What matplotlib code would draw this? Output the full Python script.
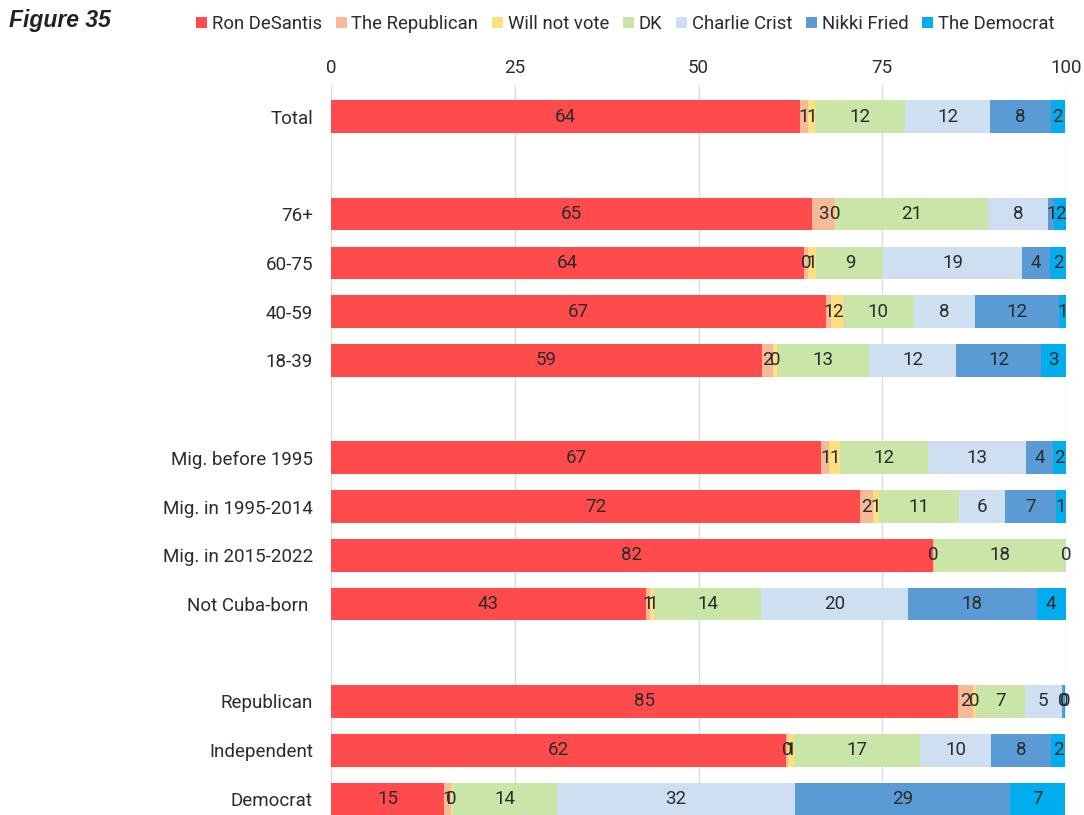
import matplotlib
matplotlib.use("Agg")
import matplotlib.pyplot as plt
import numpy as np

categories = ["Total", "", "76+", "60-75", "40-59", "18-39", "",
              "Mig. before 1995", "Mig. in 1995-2014", "Mig. in 2015-2022", "Not Cuba-born ", "",
              "Republican", "Independent", "Democrat"]
series_names = ["Ron DeSantis", "The Republican", "Will not vote", "DK",
                "Charlie Crist", "Nikki Fried", "The Democrat"]
nan = np.nan
ron_desantis   = [63.8, nan, 65.4, 64.4, 67.4, 58.6, nan, 66.7, 72.0, 81.9, 42.8, nan, 85.3, 61.9, 15.4]
the_republican = [1.1,  nan, 3.2,  0.45, 0.64, 1.6,  nan, 1.1,  1.77, 0.1,  0.6,  nan, 2.04, 0.3,  0.9]
will_not_vote  = [1.0,  nan, 0.1,  1.2,  1.6,  0.45, nan, 1.4,  0.8,  0.0,  0.6,  nan, 0.45, 0.8,  0.1]
dk             = [12.2, nan, 20.7, 9.1,  9.66, 12.6, nan, 12.0, 10.9, 18.0, 14.5, nan, 6.6,  17.1, 14.4]
charlie_crist  = [11.6, nan, 8.2,  18.8, 8.3,  11.8, nan, 13.4, 6.2,  0.0,  19.95, nan, 5.0, 9.75, 32.3]
nikki_fried    = [8.2,  nan, 0.8,  3.9,  11.5, 11.6, nan, 3.6,  7.0,  0.0,  17.6, nan, 0.4,  8.1,  29.3]
the_democrat   = [2.0,  nan, 1.7,  2.3,  0.9,  3.3,  nan, 1.9,  1.3,  0.1,  3.9,  nan, 0.1,  1.95, 7.4]
x_ticks = [0, 25, 50, 75, 100]

colors = ["#FF4B4B", "#F5BA98", "#FFDF80", "#C9E5A7", "#CDDFF0", "#5B9BD5", "#00AEEF"]
all_series = [ron_desantis, the_republican, will_not_vote, dk, charlie_crist, nikki_fried, the_democrat]

plt.rcParams['font.family'] = ['Roboto', 'DejaVu Sans']
fig = plt.figure(figsize=(10.84, 8.15), dpi=100)
ax = fig.add_axes([331/1084, 0.0, (1066-331)/1084, 1 - 85/815])

y = np.arange(len(categories))
left = np.zeros(len(categories))
handles = []
for name, vals, c in zip(series_names, all_series, colors):
    v = np.nan_to_num(np.array(vals, dtype=float))
    h = ax.barh(y, v, left=left, height=0.67, color=c, label=name, linewidth=0, zorder=2)
    handles.append(h)
    for i in range(len(categories)):
        if not np.isnan(vals[i]) and vals[i] > 0:
            ax.text(left[i] + v[i] / 2, y[i], f"{vals[i]:.0f}", ha="center", va="center",
                    fontsize=13.5, color="#2b2b2b", zorder=3)
    left += v

ax.set_xlim(0, 100)
ax.set_ylim(14.33, -0.65)
ax.set_yticks(y)
ax.set_yticklabels(categories, fontsize=13.5, color="#2b2b2b")
ax.xaxis.tick_top()
ax.set_xticks(x_ticks)
ax.set_xticklabels([str(t) for t in x_ticks], fontsize=13.5, color="#2b2b2b")
ax.tick_params(axis="both", length=0)
ax.tick_params(axis="y", pad=13)
ax.tick_params(axis="x", pad=5.5)
for s in ax.spines.values():
    s.set_visible(False)
ax.grid(axis="x", color="#dcdcdc", linewidth=1, zorder=0)
ax.axvline(0, color="#c8c8c8", linewidth=1.2, zorder=1)

fig.text(9/1084, 1 - 21/815, "Figure 35", fontsize=16.5, fontstyle="italic", fontweight="bold",
         family=["Liberation Sans", "DejaVu Sans"], color="#222222", va="center", ha="left")
fig.legend(handles=handles, labels=series_names, loc="center right",
           bbox_to_anchor=(1062/1084, 1 - 24/815), ncol=7, frameon=False,
           fontsize=13.3, handlelength=0.6, handleheight=0.6, handletextpad=0.25,
           columnspacing=0.75, borderaxespad=0, labelcolor="#2b2b2b")

fig.savefig("out.png", dpi=100)
